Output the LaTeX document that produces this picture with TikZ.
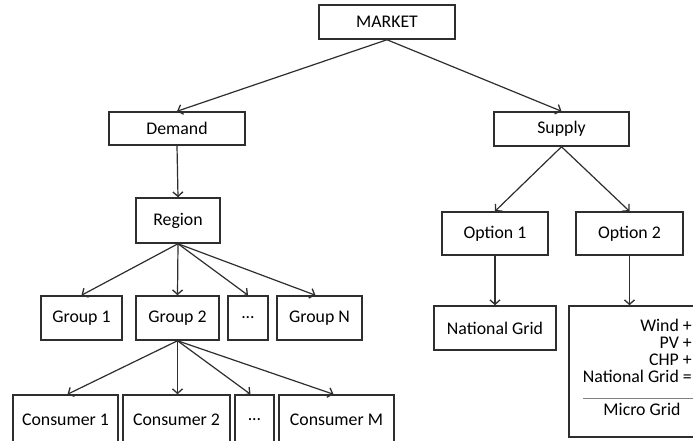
\documentclass[tikz,border=0pt]{standalone}
\usepackage{fontspec}
\setmainfont{Carlito}
\usetikzlibrary{arrows.meta}
\definecolor{linec}{HTML}{2E2E2E}
\tikzset{
  box/.style={draw=linec, line width=1.5pt, fill=white, inner sep=0pt,
    font=\fontsize{17.8}{17}\selectfont},
  conn/.style={draw=linec, line width=1.2pt,
    -{Straight Barb[length=4.5pt,width=10pt,line width=1.3pt]}},
  txt/.style={inner sep=0pt, font=\fontsize{17.8}{17}\selectfont}
}
\begin{document}
\begin{tikzpicture}[x=1pt,y=-1pt]
\useasboundingbox (0,0) rectangle (693,440);
\clip (0,0) rectangle (693,440);
\fill[white] (0,0) rectangle (693,440);
% nodes
\node[box, minimum width=136pt, minimum height=34pt] (market) at (387,22) {MARKET};
\node[box, minimum width=136pt, minimum height=33pt] (demand) at (177,128.5) {Demand};
\node[box, minimum width=135pt, minimum height=34pt] (supply) at (561.5,129) {Supply};
\node[box, minimum width=84pt, minimum height=45pt] (region) at (178,220.5) {Region};
\node[box, minimum width=106pt, minimum height=43pt] (opt1) at (495,233.5) {Option 1};
\node[box, minimum width=107pt, minimum height=43pt] (opt2) at (629.5,233.5) {Option 2};
\node[box, minimum width=81pt, minimum height=44pt] (g1) at (81.5,318) {Group 1};
\node[box, minimum width=83pt, minimum height=44pt] (g2) at (177.5,318) {Group 2};
\node[box, minimum width=40pt, minimum height=44pt] (gd) at (248,318) {...};
\node[box, minimum width=85pt, minimum height=44pt] (gn) at (319.5,318) {Group N};
\node[box, minimum width=122pt, minimum height=44pt] (natgrid) at (495,328) {National Grid};
\node[box, minimum width=140pt, minimum height=131pt] (micro) at (639,371.5) {};
\node[box, minimum width=105pt, minimum height=50pt] (c1) at (65.5,420) {Consumer 1};
\node[box, minimum width=107pt, minimum height=50pt] (c2) at (176.5,420) {Consumer 2};
\node[box, minimum width=39pt, minimum height=50pt] (cd) at (254.5,420) {...};
\node[box, minimum width=115pt, minimum height=50pt] (cm) at (336.5,420) {Consumer M};
% micro grid contents
\node[txt, anchor=base east] (wind) at (692,331) {Wind +};
\node[txt, anchor=base east] (pv) at (692,348) {PV +};
\node[txt, anchor=base east] (chp) at (692,365) {CHP +};
\node[txt, anchor=base east] (ng) at (692,382) {National Grid =};
\draw[gray, line width=0.8pt] (583,398) -- (700,398);
\node[txt, anchor=base] (mg) at (642,415) {Micro Grid};
% connectors
\draw[conn] (market.south) -- (demand.north);
\draw[conn] (market.south) -- (supply.north);
\draw[conn] (demand.south) -- (region.north);
\draw[conn] (region.south) -- (g1.north);
\draw[conn] (region.south) -- (g2.north);
\draw[conn] (region.south) -- (gd.north);
\draw[conn] (region.south) -- ([xshift=-4pt]gn.north);
\draw[conn] (g2.south) -- ([xshift=2pt]c1.north);
\draw[conn] (g2.south) -- ([xshift=1pt]c2.north);
\draw[conn] (g2.south) -- ([xshift=-4pt]cd.north);
\draw[conn] (g2.south) -- ([xshift=-3pt]cm.north);
\draw[conn] (supply.south) -- (opt1.north);
\draw[conn] (supply.south) -- (opt2.north);
\draw[conn] (opt1.south) -- (natgrid.north);
\draw[conn] (opt2.south) -- (opt2.south |- micro.north);
\end{tikzpicture}
\end{document}
